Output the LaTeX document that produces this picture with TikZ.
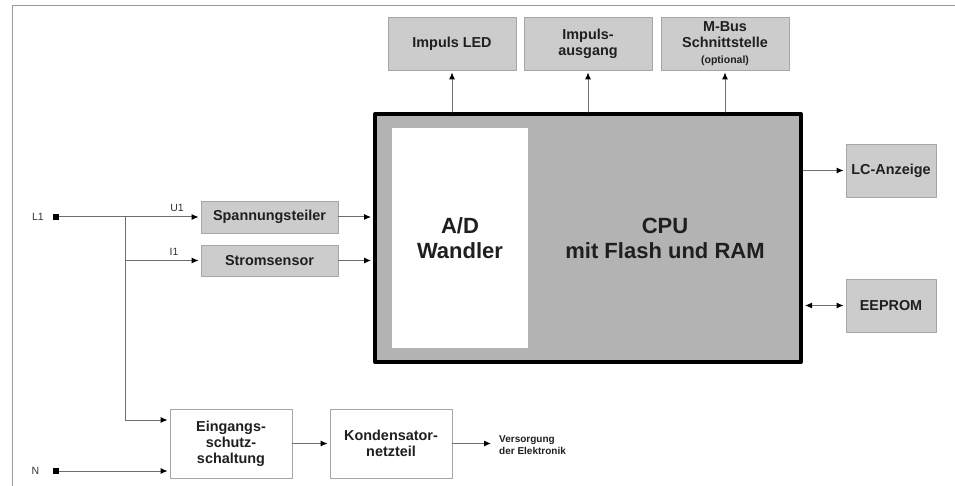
\documentclass[tikz,border=0pt]{standalone}
\usepackage{fontspec}
\setmainfont{Liberation Sans}
\usepackage{xcolor}
\usepackage{tikz}
\usetikzlibrary{positioning,arrows.meta}

\definecolor{boxgray}{HTML}{CCCCCC}
\definecolor{cpugray}{HTML}{B3B3B3}
\definecolor{edgegray}{HTML}{A6A6A6}
\definecolor{wiregray}{HTML}{6E6E6E}
\definecolor{framegray}{HTML}{999999}

\begin{document}
\begin{tikzpicture}[x=1pt, y=-1pt, >={Latex[length=7pt,width=6pt,color=black]}, line cap=round, line join=round,
		block/.style={draw=edgegray, fill=boxgray, line width=0.8pt, inner sep=0pt, align=center,
			text=black!88, font=\bfseries\fontsize{14.4}{16}\selectfont},
		wblock/.style={block, fill=white},
		bigtxt/.style={align=center, text=black!88, font=\bfseries\fontsize{22}{25}\selectfont},
		wire/.style={draw=wiregray, line width=1pt},
		sig/.style={wire, ->, shorten >=2pt},
		pin/.style={fill=black, minimum size=6.5pt, inner sep=0pt},
		lbl/.style={text=black!80, font=\fontsize{10.5}{12}\selectfont}]
		\useasboundingbox (0,0) rectangle (955,486);
		\draw[framegray, line width=1pt, line cap=butt] (12,486) -- (12,6) -- (955,6);
		
		% prozessor
		\node[draw=black, fill=cpugray, line width=4pt, minimum width=426pt, minimum height=248pt] (cpu) at (588,238) {};
		\node[fill=white, minimum width=136pt, minimum height=220pt, bigtxt] (ad) at (460,238) {A/D\\Wandler};
		\node[bigtxt] (cputxt) at (665,238) {CPU\\mit Flash und RAM};
		
		% ausgaenge
		\node[block, minimum width=128pt, minimum height=53pt] (led) at (452,43.5) {Impuls LED};
		\node[block, minimum width=128pt, minimum height=53pt] (puls) at (588,43.5) {Impuls-\\ausgang};
		\node[block, minimum width=128pt, minimum height=53pt] (mbus) at (725,43.5) {M-Bus\\Schnittstelle\\{\fontsize{10.5}{12}\selectfont(optional)}};
		\node[block, minimum width=90pt, minimum height=53pt] (lcd) at (891,170.5) {LC-Anzeige};
		\node[block, minimum width=90pt, minimum height=53pt] (eeprom) at (891,305.5) {EEPROM};
		
		% messpfad
		\node[block, minimum width=137pt, minimum height=32pt] (spann) at (269.5,217) {Spannungsteiler};
		\node[block, minimum width=137pt, minimum height=31pt] (strom) at (269.5,260.5) {Stromsensor};
		
		% versorgung
		\node[wblock, minimum width=122pt, minimum height=69pt] (schutz) at (231,443.5) {Eingangs-\\schutz-\\schaltung};
		\node[wblock, minimum width=122pt, minimum height=69pt] (konden) at (391,443.5) {Kondensator-\\netzteil};
		\node[anchor=west, inner sep=0pt, align=left, text=black!88, font=\bfseries\fontsize{10}{11.5}\selectfont] (vers) at (499,445) {Versorgung\\der Elektronik};
		
		% anschluesse
		\node[pin] (l1) at (56,217) {};
		\node[pin] (n) at (56,471) {};
		\node[lbl] (l1txt) at (38,217) {L1};
		\node[lbl] (ntxt) at (35.5,471) {N};
		\node[lbl] (u1txt) at (177,207.5) {U1};
		\node[lbl] (i1txt) at (174,251.5) {I1};
		\coordinate (j1) at (125,217);
		\coordinate (j3) at (125,420);
		
		\draw[sig] (l1.east) -- (spann.west);
		\draw[sig] (j1) |- (strom.west);
		\draw[sig] (j1) |- (schutz.west |- j3);
		\draw[sig] (n.east) -- (schutz.west |- n);
		\draw[sig] (schutz) -- (konden);
		\draw[sig, shorten >=8pt] (konden.east) -- (vers.west |- konden.east);
		\draw[sig] (spann.east) -- (cpu.west |- spann.east);
		\draw[sig] (strom.east) -- (cpu.west |- strom.east);
		\draw[sig] (cpu.north -| led.south) -- (led.south);
		\draw[sig] (cpu.north -| puls.south) -- (puls.south);
		\draw[sig] (cpu.north -| mbus.south) -- (mbus.south);
		\draw[sig] (cpu.east |- lcd.west) -- (lcd.west);
		\draw[sig, <->, shorten <=2pt] (cpu.east |- eeprom.west) -- (eeprom.west);
	\end{tikzpicture}
\end{document}
